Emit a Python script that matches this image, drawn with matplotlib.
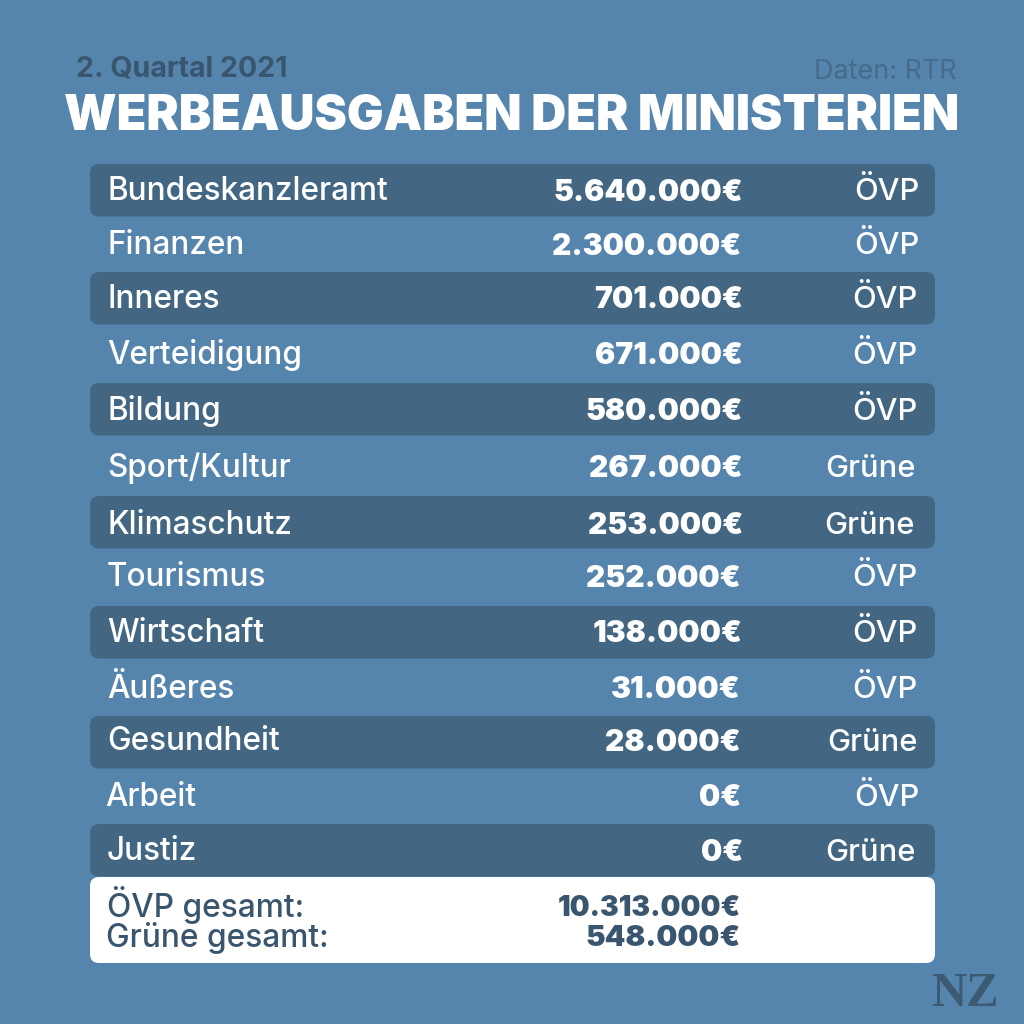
import matplotlib
matplotlib.use("Agg")
import matplotlib.pyplot as plt
from matplotlib.patches import FancyBboxPatch

ministries = ["Bundeskanzleramt","Finanzen","Inneres","Verteidigung","Bildung","Sport/Kultur","Klimaschutz","Tourismus","Wirtschaft","Äußeres","Gesundheit","Arbeit","Justiz"]
amounts = ["5.640.000€","2.300.000€","701.000€","671.000€","580.000€","267.000€","253.000€","252.000€","138.000€","31.000€","28.000€","0€","0€"]
parties = ["ÖVP","ÖVP","ÖVP","ÖVP","ÖVP","Grüne","Grüne","ÖVP","ÖVP","ÖVP","Grüne","ÖVP","Grüne"]
text_y = [190,244,297,353,409,466,523,576,631,687,740,795,850]
name_x = [107,107,107,107,107,107,107,107,107,107,107,105,107]
amount_x = [743,741,743,743,743,743,743,741,743,741,741,741,743]
party_x = [919,919,918,918,918,916,915,918,918,917,918,919,916]
row_y = [190,None,298,None,409,None,522,None,632,None,742,None,850]

BG = "#5584AC"; DARK = "#436782"; NAVY = "#3A566E"
plt.rcParams['font.family'] = ['Inter','DejaVu Sans']
fig = plt.figure(figsize=(10.24,10.24), dpi=100, facecolor=BG)
ax = fig.add_axes([0,0,1,1]); ax.set_xlim(0,1024); ax.set_ylim(1024,0); ax.axis("off")

def box(y0,y1,c):
    ax.add_patch(FancyBboxPatch((90,y0),845,y1-y0,boxstyle="round,pad=0,rounding_size=9",linewidth=0,facecolor=c,zorder=1))

for yc in row_y:
    if yc is not None:
        box(yc-26,yc+26.5,DARK)
box(877,963,"white")

for n,a,p,y,nx,ax_,px in zip(ministries,amounts,parties,text_y,name_x,amount_x,party_x):
    ax.text(nx,y+2,n,color="white",fontsize=22.7,fontweight=500,va="center",ha="left",zorder=3)
    ax.text(ax_,y+3,a,color="white",fontsize=21.6,fontweight=900,va="center",ha="right",zorder=3)
    ax.text(px,y+2+(0 if p=="ÖVP" else 1),p,color="white",fontsize=22.2,fontweight=500,va="center",ha="right",zorder=3)

ax.text(76,69,"2. Quartal 2021",color=NAVY,fontsize=20.6,fontweight="bold",va="center")
ax.text(957,72,"Daten: RTR",color="#486B8A",fontsize=19.4,va="center",ha="right")
ax.text(512,117,"WERBEAUSGABEN DER MINISTERIEN",color="white",fontsize=35,fontweight=900,va="center",ha="center")

ax.text(107,905,"ÖVP gesamt:",color=NAVY,fontsize=22.8,fontweight=500,va="center")
ax.text(106,938,"Grüne gesamt:",color=NAVY,fontsize=22.8,fontweight=500,va="center")
ax.text(741,908,"10.313.000€",color=NAVY,fontsize=20.2,fontweight=900,va="center",ha="right")
ax.text(741,939,"548.000€",color=NAVY,fontsize=21.3,fontweight=900,va="center",ha="right")
ax.text(965,994,"NZ",color="#3D5A73",fontsize=35,family="Liberation Serif",fontweight="bold",va="center",ha="center")
fig.savefig("out.png",dpi=100,facecolor=BG)
